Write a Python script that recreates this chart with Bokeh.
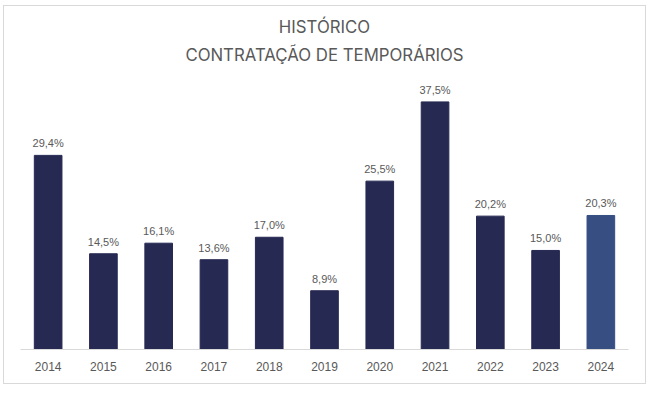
from bokeh.plotting import figure
from bokeh.models import ColumnDataSource, LabelSet, Title
from bokeh.core.properties import value
from bokeh.embed import file_html
from bokeh.resources import INLINE

years = ["2014", "2015", "2016", "2017", "2018", "2019", "2020", "2021", "2022", "2023", "2024"]
values = [29.4, 14.5, 16.1, 13.6, 17.0, 8.9, 25.5, 37.5, 20.2, 15.0, 20.3]
colors = ["#262952"] * 10 + ["#374E82"]
labels = [f"{v:.1f}".replace(".", ",") + "%" for v in values]
title_lines = ["HISTÓRICO", "CONTRATAÇÃO DE TEMPORÁRIOS"]

source = ColumnDataSource(dict(years=years, values=values, colors=colors, labels=labels))

p = figure(x_range=years, y_range=(0, 41.5), width=641, height=377,
           frame_width=608, frame_height=274,
           output_backend="svg", toolbar_location=None,
           min_border_left=16, min_border_right=17, min_border_top=69, min_border_bottom=34)
p.styles = {"border": "1px solid #d9d9d9", "margin-left": "3px", "margin-top": "5px"}

p.vbar(x="years", top="values", width=0.5, color="colors", source=source)

p.add_layout(LabelSet(x="years", y="values", text="labels", source=source,
                      text_align="center", text_baseline="alphabetic", y_offset=8,
                      text_font=value("Liberation Sans"), text_font_size="11px",
                      text_color="#595959"))

title_style = dict(align="center", text_font="Inter", text_font_size="16.8px",
                   text_font_style="normal", text_color="#595959", text_line_height=0.8)
p.add_layout(Title(text=title_lines[1], standoff=17, vertical_align="top", **title_style), "above")
p.add_layout(Title(text=title_lines[0], standoff=0, **title_style), "above")

p.yaxis.visible = False
p.xgrid.grid_line_color = None
p.ygrid.grid_line_color = None
p.outline_line_color = None
p.xaxis.axis_line_color = "#d9d9d9"
p.xaxis.major_tick_line_color = None
p.xaxis.minor_tick_line_color = None
p.xaxis.major_label_standoff = 6
p.xaxis.major_label_text_font = "Liberation Sans"
p.xaxis.major_label_text_font_size = "12px"
p.xaxis.major_label_text_color = "#595959"
p.x_range.range_padding = 0

open("out.html", "w").write(file_html(p, INLINE))
